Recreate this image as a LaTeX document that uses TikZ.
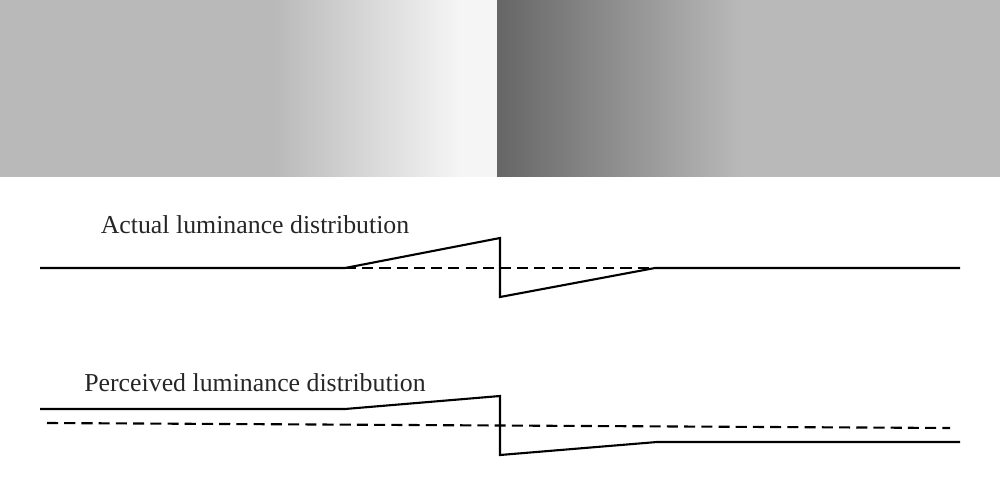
\documentclass[tikz,border=0pt]{standalone}
\usepackage{fontspec}
\setmainfont{Liberation Serif}
\definecolor{midgray}{HTML}{B9B9B9}
\definecolor{palegray}{HTML}{F5F5F5}
\definecolor{darkgray}{HTML}{666666}
\definecolor{textgray}{HTML}{262626}
\begin{document}
\begin{tikzpicture}
[x=0.02cm,y=-0.02cm,line width=1.2pt,
 profile/.style={black,line join=miter},
 level/.style={black,dash pattern=on 6.3pt off 3.5pt},
 caption/.style={text=textgray,font=\fontsize{14.7}{17}\selectfont,inner sep=0pt}]

  \useasboundingbox (0,0) rectangle (1000,500);

  % the stimulus: two ramps meeting at a step
  \fill[midgray] (0,0) rectangle (275,177);
  \shade[left color=midgray,right color=palegray] (274,0) rectangle (460,176.3);
  \fill[palegray] (459,0) rectangle (498,177);
  \shade[left color=darkgray,right color=midgray] (497,0) rectangle (741,176.3);
  \fill[midgray] (740,0) rectangle (1000,177);

  % actual luminance
  \node[caption] (actual) at (255,225) {Actual luminance distribution};
  \draw[level] (345,268) -- (655,268);
  \draw[profile] (40,268) -- (345,268) -- (500,238) -- (500,297) -- (655,268) -- (960,268);

  % perceived luminance
  \node[caption] (perceived) at (255,383) {Perceived luminance distribution};
  \draw[level] (47,423) -- (950,428);
  \draw[profile] (40,409) -- (345,409) -- (500,396) -- (500,455) -- (657,442) -- (960,442);
\end{tikzpicture}
\end{document}
